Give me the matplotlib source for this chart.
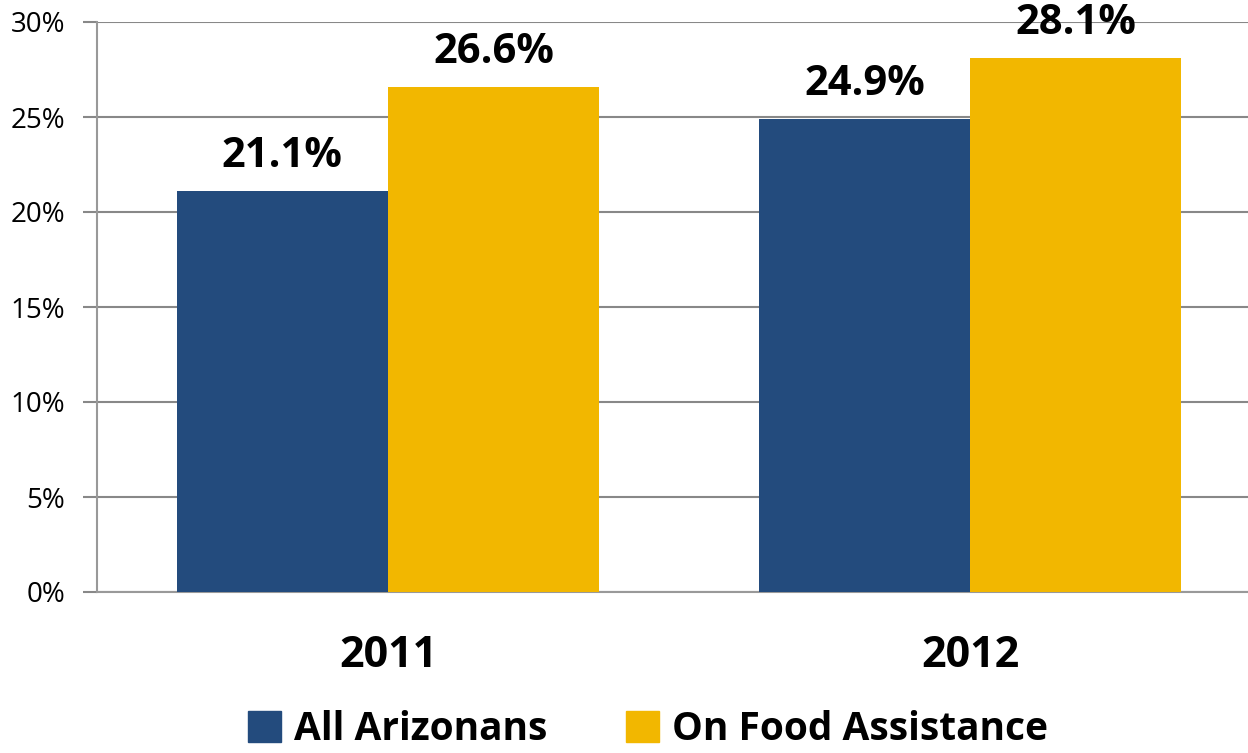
import matplotlib.pyplot as plt
import numpy as np
from matplotlib.patches import Patch

years = ["2011", "2012"]
all_arizonans = [21.1, 24.9]
food_assistance = [26.6, 28.1]
yticks = [0, 5, 10, 15, 20, 25, 30]

blue = "#234B7D"
gold = "#F2B700"
font = "Open Sans"

fig = plt.figure(figsize=(12.48, 7.53), dpi=100)
# axes reaches past the right edge of the figure, as in the original
ax = fig.add_axes([97 / 1248, 161 / 753, 1164 / 1248, 570 / 753])

x = np.arange(len(years))
w = 0.363
b1 = ax.bar(x - w / 2, all_arizonans, w, color=blue, zorder=3)
b2 = ax.bar(x + w / 2, food_assistance, w, color=gold, zorder=3)

for bars, vals in [(b1, all_arizonans), (b2, food_assistance)]:
    for rect, v in zip(bars, vals):
        ax.annotate(f"{v:.1f}%", (rect.get_x() + rect.get_width() / 2, v),
                    xytext=(0, 10), textcoords="offset points",
                    ha="center", va="bottom", fontsize=30,
                    fontweight="bold", family=font)

ax.set_xlim(-0.5, 1.5)
ax.set_ylim(0, 30)
ax.set_yticks(yticks)
ax.set_yticklabels([f"{t}%" for t in yticks], fontsize=20, family=font)
ax.set_xticks(x)
ax.set_xticklabels(years, fontsize=31, fontweight="bold", family=font)
ax.tick_params(axis="x", length=0, pad=30)
ax.tick_params(axis="y", length=10, width=1.5, color="#888888", pad=13)
ax.grid(axis="y", color="#888888", linewidth=1.5, zorder=0)
for s in ["top", "right"]:
    ax.spines[s].set_visible(False)
ax.spines["left"].set_color("#999999")
ax.spines["left"].set_linewidth(1.5)
ax.spines["bottom"].set_color("#999999")
ax.spines["bottom"].set_linewidth(1.5)

handles = [Patch(color=blue, label="All Arizonans"),
           Patch(color=gold, label="On Food Assistance")]
fig.legend(handles=handles, loc="center", bbox_to_anchor=(648 / 1248, 24 / 753),
           ncol=2, frameon=False, handlelength=0.85, handleheight=0.85,
           handletextpad=0.35, columnspacing=2.0,
           prop={"family": font, "weight": "bold", "size": 28})

fig.savefig("out.png", dpi=100)
